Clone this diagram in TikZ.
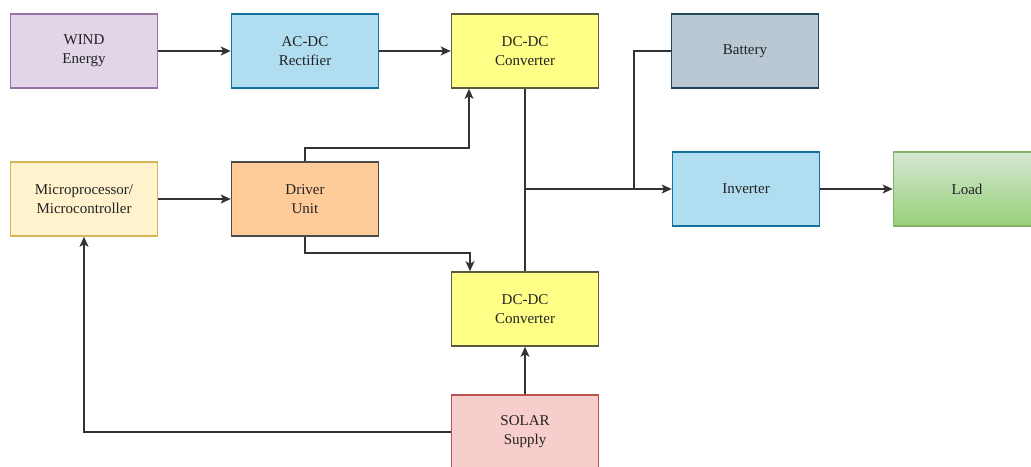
\documentclass[tikz,border=0pt]{standalone}
\usepackage{fontspec}
\setmainfont{Liberation Serif}
\usetikzlibrary{arrows.meta,positioning,calc}
\definecolor{windF}{HTML}{E1D5E7}\definecolor{windD}{HTML}{9673A6}
\definecolor{blueF}{HTML}{B1DDF0}\definecolor{blueD}{HTML}{10739E}
\definecolor{yelF}{HTML}{FFFF88}\definecolor{yelD}{HTML}{5A5A40}
\definecolor{batF}{HTML}{BAC8D3}\definecolor{batD}{HTML}{23445D}
\definecolor{loadT}{HTML}{D5E8D4}\definecolor{loadB}{HTML}{97D077}\definecolor{loadD}{HTML}{82B366}
\definecolor{micF}{HTML}{FFF2CC}\definecolor{micD}{HTML}{D6B656}
\definecolor{drvF}{HTML}{FFCC99}\definecolor{drvD}{HTML}{4A4A4A}
\definecolor{solF}{HTML}{F8CECC}\definecolor{solD}{HTML}{B85450}
\definecolor{wire}{HTML}{333333}
\definecolor{txt}{HTML}{222222}
\tikzset{
  blk/.style={draw, line width=1.6pt, minimum width=147pt, minimum height=74pt,
    inner sep=0pt, align=center, text=txt, font=\fontsize{15}{19}\selectfont},
  arr/.style={draw=wire, line width=1.5pt, -{Stealth[length=10pt,width=9pt,inset=2.5pt]}},
  ln/.style={draw=wire, line width=1.5pt}
}
\begin{document}
\begin{tikzpicture}[x=1pt,y=-1pt]
\useasboundingbox (0,0) rectangle (1031,466);
\clip (0,0) rectangle (1031,466);
\node[blk, fill=windF, draw=windD] (wind) at (84,51) {WIND\\Energy};
\node[blk, fill=blueF, draw=blueD] (acdc) at (305,51) {AC-DC\\Rectifier};
\node[blk, fill=yelF, draw=yelD] (dc1) at (525,51) {DC-DC\\Converter};
\node[blk, fill=batF, draw=batD] (bat) at (745,51) {Battery};
\node[blk, fill=micF, draw=micD] (micro) at (84,199) {Microprocessor/\\Microcontroller};
\node[blk, fill=drvF, draw=drvD] (driver) at (305,199) {Driver\\Unit};
\node[blk, fill=blueF, draw=blueD] (inv) at (746,189) {Inverter};
\node[blk, top color=loadT, bottom color=loadB, draw=loadD] (load) at (967,189) {Load};
\node[blk, fill=yelF, draw=yelD] (dc2) at (525,309) {DC-DC\\Converter};
\node[blk, fill=solF, draw=solD] (solar) at (525,432) {SOLAR\\Supply};
\coordinate (j) at (dc1.south |- inv.west);
\coordinate (k) at (634,189);
\draw[arr] (wind.east) -- (acdc.west);
\draw[arr] (acdc.east) -- (dc1.west);
\draw[arr] (micro.east) -- (driver.west);
\draw[arr] (driver.north) -- ++(0,-13) -| ([xshift=-56pt]dc1.south);
\draw[arr] (driver.south) -- ++(0,16) -| ([xshift=-55pt]dc2.north);
\draw[ln] (dc1.south) -- (dc2.north);
\draw[ln] (bat.west) -| (k);
\draw[arr] (j) -- (inv.west);
\draw[arr] (inv.east) -- (load.west);
\draw[arr] (solar.north) -- (dc2.south);
\draw[arr] (solar.west) -| (micro.south);
\end{tikzpicture}
\end{document}
